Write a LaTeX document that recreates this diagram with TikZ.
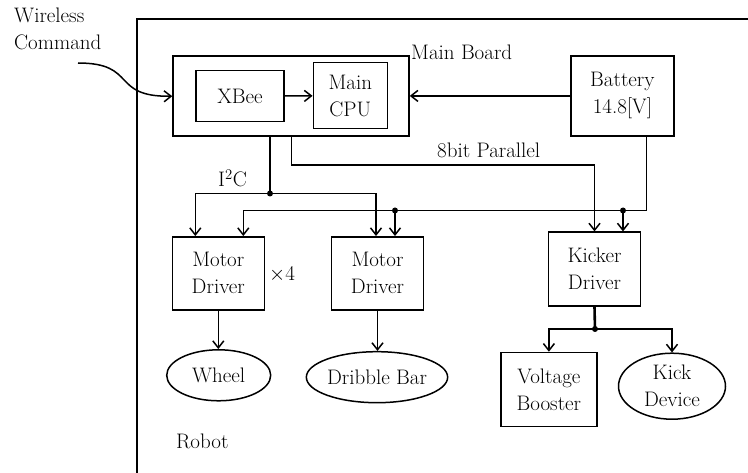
\documentclass[tikz,border=0pt]{standalone}
\usetikzlibrary{arrows.meta,calc,positioning,shapes.geometric}
\tikzset{
  block/.style={draw,line width=1.5pt,align=center,inner sep=0pt},
  device/.style={ellipse,draw,line width=1.5pt,align=center,inner sep=0pt},
  wire/.style={line width=1.5pt},
  heavywire/.style={line width=2.6pt},
  flow/.style={-{Straight Barb[length=7pt,width=11pt]},line width=1.5pt},
  junction/.style={circle,fill,inner sep=0pt,minimum size=6pt},
  lbl/.style={inner sep=0pt}
}

\begin{document}
\begin{tikzpicture}[x=1pt,y=-1pt,font=\fontsize{21}{27}\selectfont]
  \useasboundingbox (0,0) rectangle (748,473);
  % robot frame
  \draw[wire] (137,480) -- (137,19) -- (760,19);
  \node[lbl,anchor=base west] (robot) at (176,449) {Robot};
  % main board and its parts
  \node[block,minimum width=236pt,minimum height=80pt] (board) at (291,96) {};
  \node[lbl,anchor=base west] (boardlbl) at (411,60) {Main Board};
  \node[block,minimum width=88pt,minimum height=51pt] (xbee) at (240,96.2) {XBee};
  \node[block,minimum width=74pt,minimum height=66pt] (cpu) at (350.3,95.7) {Main\\CPU};
  \node[block,minimum width=103pt,minimum height=80pt] (bat) at (622.4,95.9) {Battery\\14.8[V]};
  % drivers
  \node[block,minimum width=92pt,minimum height=73pt] (md1) at (218.3,273.3) {Motor\\Driver};
  \node[lbl,anchor=base west] (times) at (269,281) {$\times$4};
  \node[block,minimum width=92pt,minimum height=73pt] (md2) at (377.5,273.3) {Motor\\Driver};
  \node[block,minimum width=92pt,minimum height=74pt] (kicker) at (594.5,269.2) {Kicker\\Driver};
  % actuators
  \node[device,minimum width=104pt,minimum height=51pt] (wheel) at (218.7,375.3) {Wheel};
  \node[device,minimum width=134pt,minimum height=51pt] (dribble) at (377,377.2) {Dribble Bar};
  \node[block,minimum width=96pt,minimum height=74pt] (boost) at (548.9,389.5) {Voltage\\Booster};
  \node[device,minimum width=107pt,minimum height=66pt] (kickdev) at (672,386.2) {Kick\\Device};
  % wireless input
  \node[lbl,align=left,anchor=north west] (wireless) at (14,8) {Wireless\\Command};
  \coordinate (wstart) at (78,63);
  \draw[flow] (wstart) .. controls (138,63) and (110,97) .. (board.west |- xbee);
  \draw[flow] (xbee) -- (cpu);
  \draw[flow] (bat.west) -- (board.east |- bat.west);
  % I2C bus
  \coordinate (i2cj) at (270,193.5);
  \draw[wire] (board.south -| i2cj) -- (i2cj);
  \draw[flow] (i2cj) -| ($(md1.north)+(-23,0)$);
  \draw[flow] (i2cj) -| ($(md2.north)+(-1.5,0)$);
  \node[junction] at (i2cj) {};
  \node[lbl,anchor=base west] (i2clbl) at (218,187) {I\textsuperscript{2}C};
  % 8bit parallel
  \draw[flow] ($(board.south)+(0.7,0)$) -- ++(0,28.3) -| (kicker.north);
  \node[lbl,anchor=base west] (parlbl) at (437,158) {8bit Parallel};
  % power line
  \coordinate (pwrj1) at (395,210.5);
  \coordinate (pwrj2) at (623,210.5);
  \draw[flow] ($(bat.south)+(24,0)$) |- (pwrj1) -| ($(md1.north)+(25,0)$);
  \draw[flow] (pwrj1) -- (pwrj1 |- md2.north);
  \draw[flow] (pwrj2) -- (pwrj2 |- kicker.north);
  \node[junction] at (pwrj1) {};
  \node[junction] at (pwrj2) {};
  % outputs
  \draw[flow] (md1.south) -- (md1.south |- wheel.north);
  \draw[flow] (md2.south) -- (md2.south |- dribble.north);
  \coordinate (kickj) at (595,329);
  \draw[heavywire] (kicker.south) -- (kickj);
  \draw[flow] (kickj) -| (boost.north);
  \draw[flow] (kickj) -| (kickdev.north);
  \node[junction] at (kickj) {};
\end{tikzpicture}
\end{document}
